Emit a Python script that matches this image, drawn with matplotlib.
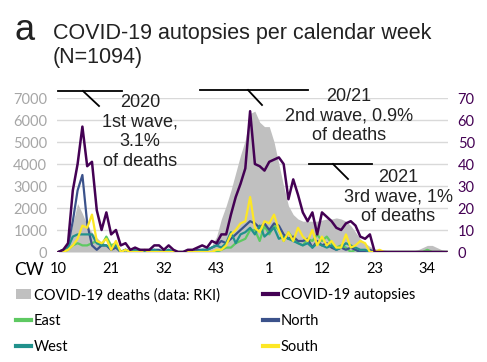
import matplotlib
matplotlib.use("Agg")
import matplotlib.pyplot as plt
from matplotlib.lines import Line2D
from matplotlib.patches import Patch
import numpy as np

# calendar weeks: 2020 CW10..CW53, 2021 CW1..CW38
weeks_2020 = list(range(10, 54))
weeks_2021 = list(range(1, 39))
calendar_weeks = weeks_2020 + weeks_2021
tick_labels = ["10", "21", "32", "43", "1", "12", "23", "34"]

deaths = [20, 80, 400, 1300, 2200, 1750, 1200, 900, 650, 450,
          350, 250, 180, 120, 100, 80, 60, 50, 40, 40,
          30, 30, 30, 30, 40, 40, 40, 50, 60, 80,
          100, 150, 300, 700, 1500, 2100, 2800, 3600, 4400, 5100,
          6300, 6400, 5900, 5700, 5700, 5000, 4000, 3000, 2100, 1700,
          1500, 1400, 1400, 1400, 1400, 1450, 1500, 1500, 1550, 1500,
          1400, 1200, 900, 600, 400, 250, 150, 100, 80, 50,
          50, 50, 50, 50, 50, 100, 200, 300, 300, 200,
          100, 50]
autopsies = [0, 1, 4, 28, 40, 57, 39, 41, 19, 10,
             18, 8, 10, 3, 4, 1, 2, 1, 1, 1,
             3, 3, 1, 3, 1, 0, 0, 1, 1, 2,
             3, 2, 5, 4, 8, 8, 17, 25, 31, 38,
             64, 40, 39, 37, 41, 42, 43, 40, 24, 33,
             26, 18, 14, 18, 8, 18, 16, 14, 11, 10,
             13, 14, 12, 7, 6, 8, 0, 0, 0, 0,
             0, 0, 0, 0, 0, 0, 0, 0, 0, 0,
             0, 0]
north = [0, 1, 3, 14, 28, 35, 13, 3, 1, 3,
         3, 1, 2, 0, 1, 0, 0, 1, 0, 0,
         1, 1, 0, 1, 0, 0, 0, 0, 0, 1,
         1, 1, 2, 3, 5, 4, 6, 8, 10, 12,
         14, 13, 11, 13, 10, 13, 12, 8, 6, 7,
         5, 5, 6, 2, 5, 3, 4, 2, 1, 2,
         1, 2, 1, 0, 0, 1, 0, 0, 0, 0,
         0, 0, 0, 0, 0, 0, 0, 0, 0, 0,
         0, 0]
south = [0, 0, 1, 3, 6, 12, 11, 17, 5, 4,
         6, 1, 5, 0, 1, 0, 0, 0, 1, 0,
         0, 0, 0, 0, 0, 0, 0, 0, 0, 0,
         0, 0, 0, 1, 1, 3, 8, 10, 13, 14,
         25, 11, 9, 14, 13, 17, 10, 5, 9, 5,
         11, 7, 5, 10, 3, 7, 3, 5, 2, 2,
         8, 2, 3, 5, 4, 0, 0, 1, 0, 0,
         0, 0, 0, 0, 0, 0, 0, 0, 0, 0,
         0, 0]
east = [0, 0, 1, 3, 4, 3, 3, 4, 5, 3,
        7, 3, 4, 0, 1, 0, 0, 0, 0, 0,
        0, 0, 1, 0, 0, 0, 0, 0, 0, 0,
        0, 0, 0, 0, 1, 2, 2, 4, 5, 6,
        10, 10, 5, 12, 8, 12, 10, 5, 9, 6,
        4, 3, 6, 5, 8, 5, 7, 4, 2, 3,
        2, 0, 1, 0, 0, 0, 0, 0, 0, 0,
        0, 0, 0, 0, 0, 0, 0, 1, 0, 0,
        0, 0]
west = [0, 1, 2, 7, 8, 8, 8, 8, 4, 3,
        3, 2, 3, 0, 1, 0, 1, 0, 0, 1,
        1, 0, 0, 1, 0, 0, 0, 0, 0, 0,
        1, 1, 2, 3, 2, 4, 9, 4, 8, 9,
        11, 8, 12, 7, 9, 11, 6, 7, 6, 5,
        4, 3, 4, 2, 4, 3, 2, 3, 1, 2,
        4, 3, 2, 1, 1, 0, 0, 0, 0, 0,
        0, 0, 0, 0, 0, 0, 0, 0, 0, 0,
        0, 0]

W, H = 487, 362
fig = plt.figure(figsize=(W / 100, H / 100), dpi=100)

def fx(px):
    return px / W

def fy(py):
    return 1 - py / H

ax = fig.add_axes([fx(57), fy(252), fx(448) - fx(57), fy(98) - fy(252)])
ax2 = ax.twinx()

x = np.arange(len(calendar_weeks))
ax.fill_between(x, deaths, 0, color="#c0c0c0", lw=0, zorder=1)
ax.set_ylim(0, 7000)
ax.set_xlim(-0.3, len(x) - 0.7)
ax.set_yticks(range(0, 7001, 1000))
ax.grid(axis="y", color="#d9d9d9", lw=1)
ax.set_axisbelow(True)

cols = {"East": "#5ec962", "North": "#3b528b", "West": "#21918c",
        "South": "#fde725", "auto": "#440154"}
lE, = ax2.plot(x, east, color=cols["East"], lw=1.6)
lN, = ax2.plot(x, north, color=cols["North"], lw=1.6)
lW, = ax2.plot(x, west, color=cols["West"], lw=1.6)
lS, = ax2.plot(x, south, color=cols["South"], lw=1.6)
lA, = ax2.plot(x, autopsies, color=cols["auto"], lw=1.8)
ax2.set_ylim(0, 70)
ax2.set_yticks(range(0, 71, 10))

tick_font = "Lato"
ticks_pos = [calendar_weeks.index(10), calendar_weeks.index(21), calendar_weeks.index(32),
             calendar_weeks.index(43), 44 + 0, 44 + 11, 44 + 22, 44 + 33]
ax.set_xticks(ticks_pos)
ax.set_xticklabels(tick_labels, fontfamily=tick_font, fontsize=10.5, color="#000000")
for lab in ax.get_yticklabels():
    lab.set_fontfamily(tick_font); lab.set_fontsize(10.5); lab.set_color("#a6a6a6")
for lab in ax2.get_yticklabels():
    lab.set_fontfamily(tick_font); lab.set_fontsize(10.5); lab.set_color("#440154")
ax.tick_params(axis="both", length=0)
ax.tick_params(axis="y", pad=7)
ax.tick_params(axis="x", pad=7)
ax2.tick_params(axis="y", length=0, pad=7)
for a in (ax, ax2):
    for s in a.spines.values():
        s.set_visible(False)

fig.text(fx(14), fy(270), "CW", fontfamily=tick_font, fontsize=12.5, va="center", ha="left")

# title
fig.text(fx(14), fy(30), "a", fontfamily="Liberation Sans", fontsize=26, va="center", ha="left", color="#222222")
fig.text(fx(53), fy(33), "COVID-19 autopsies per calendar week", fontfamily="Liberation Sans",
         fontsize=15.5, va="center", ha="left", color="#222222")
fig.text(fx(53), fy(58), "(N=1094)", fontfamily="Liberation Sans",
         fontsize=15.5, va="center", ha="left", color="#222222")

# annotations
ann_font = dict(fontfamily="Liberation Sans", fontsize=13, ha="center", va="center", color="#222222")
def seg(x0, y0, x1, y1):
    fig.add_artist(Line2D([fx(x0), fx(x1)], [fy(y0), fy(y1)], color="black", lw=1.3))

seg(58, 90.5, 122, 90.5); seg(83, 91, 99, 106)
for t, yy in zip(["2020", "1st wave,", "3.1%", "of deaths"], [102.5, 122, 141.5, 161.5]):
    fig.text(fx(140), fy(yy), t, **ann_font)

seg(200, 89.5, 308, 89.5); seg(248, 90, 262, 105)
for t, yy in zip(["20/21", "2nd wave, 0.9%", "of deaths"], [96.5, 116.5, 136]):
    fig.text(fx(349), fy(yy), t, **ann_font)

seg(309, 163.5, 372, 163.5); seg(333, 164, 348, 179)
for t, yy in zip(["2021", "3rd wave, 1%", "of deaths"], [177, 197, 216.5]):
    fig.text(fx(398), fy(yy), t, **ann_font)

# legend
hD = Patch(facecolor="#c0c0c0", edgecolor="none")
handles = [hD, lE, lW, lA, lN, lS]
labels = ["COVID-19 deaths (data: RKI)", "East", "West", "COVID-19 autopsies", "North", "South"]
leg = fig.legend(handles, labels, ncol=2, loc="upper left", bbox_to_anchor=(fx(16), fy(288)),
                 frameon=False, prop={"family": tick_font, "size": 10.5},
                 handlelength=1.0, handletextpad=0.2, columnspacing=3.0, labelspacing=0.8,
                 borderaxespad=0, borderpad=0)
for h in leg.legend_handles:
    if isinstance(h, Line2D):
        h.set_linewidth(3)

fig.savefig("out.png", dpi=100)
